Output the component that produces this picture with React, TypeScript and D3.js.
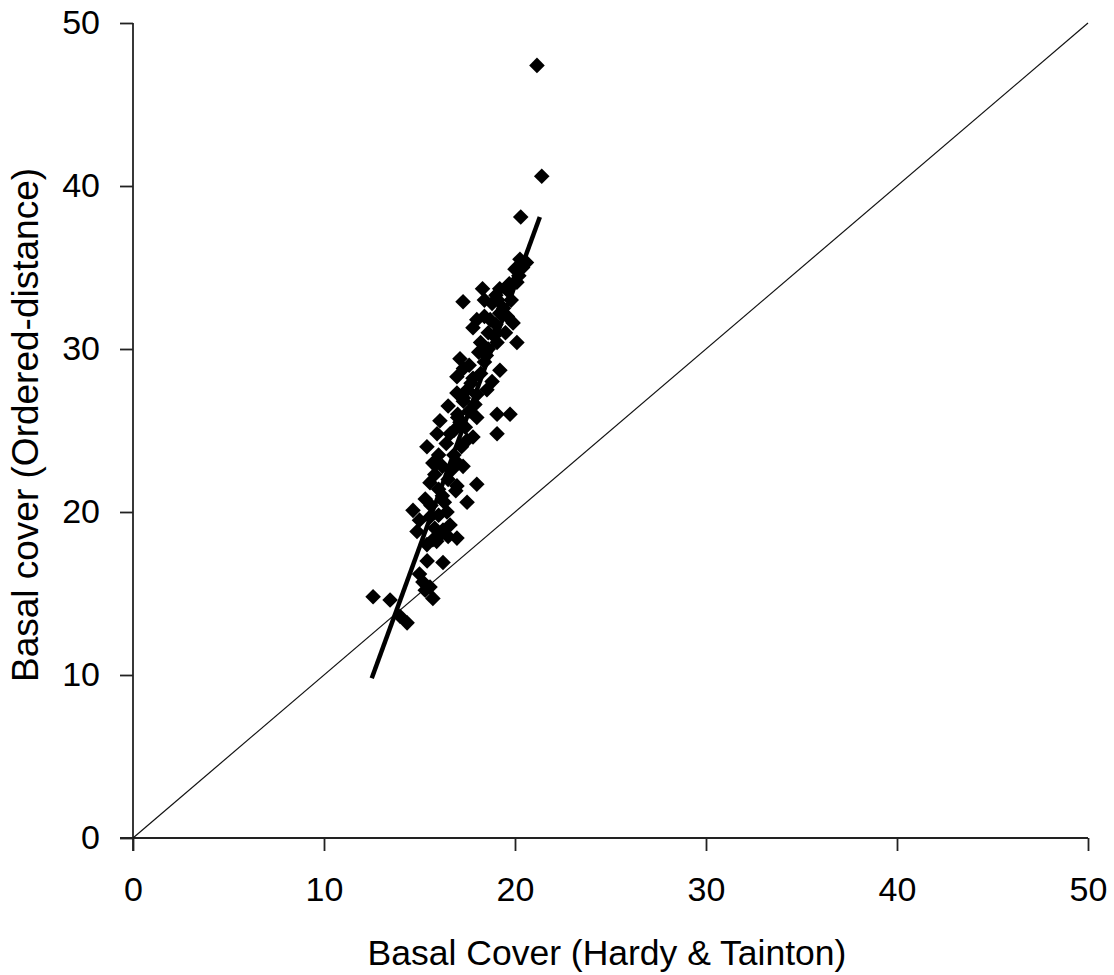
import React, { useRef, useEffect } from "react";
import * as d3 from "d3";

// scatter points: [Hardy & Tainton, Ordered-distance]
const hardyTainton = [
  21.15, 21.4, 20.3, 20.26, 20.0, 19.7, 19.2, 17.28, 19.1, 18.4,
  12.57, 13.46, 13.98, 14.35, 15.18, 15.55, 15.7, 16.23, 15.39, 15.7,
  14.87, 16.23, 16.96, 14.66, 15.55, 16.44, 17.49, 15.55, 16.96, 18.0,
  15.7, 17.28, 15.39, 15.92, 17.49, 19.06, 16.07, 17.12, 19.06, 19.74,
  16.96, 18.53, 16.96, 19.21, 17.12, 19.06, 20.1, 17.8, 19.9, 18.3,
  20.1, 15.0, 15.3, 15.0, 15.8, 16.0, 15.3, 16.2, 16.6, 15.9,
  16.5, 15.8, 16.2, 16.5, 16.8, 16.0, 17.0, 16.4, 17.2, 16.8,
  17.4, 17.0, 17.6, 17.3, 16.5, 18.0, 17.8, 17.5, 17.8, 18.2,
  17.6, 18.4, 18.0, 18.8, 17.3, 18.6, 18.2, 18.6, 19.0, 18.4,
  19.4, 18.8, 19.5, 19.8, 18.0, 19.0, 19.6, 20.2, 19.9, 20.4,
  20.6, 15.6, 16.0, 16.3, 16.7, 15.9, 16.6, 17.0, 17.3, 17.7,
  18.1, 18.5, 18.9, 19.2, 19.6, 17.9, 16.1, 15.4, 16.9, 18.7,
];
const orderedDistance = [
  47.4, 40.6, 38.1, 35.5, 34.9, 34.0, 33.7, 32.9, 33.0, 33.0,
  14.8, 14.6, 13.6, 13.2, 15.7, 15.4, 14.7, 16.9, 18.0, 18.3,
  18.8, 18.9, 18.4, 20.1, 19.7, 20.0, 20.6, 21.8, 21.6, 21.7,
  23.0, 22.8, 24.0, 24.8, 24.4, 24.8, 25.6, 25.5, 26.0, 26.0,
  27.3, 27.5, 28.3, 28.7, 29.4, 30.4, 30.4, 31.3, 31.6, 33.7,
  34.1, 16.2, 15.2, 19.5, 19.0, 19.8, 20.8, 21.0, 19.2, 18.2,
  18.5, 22.3, 22.8, 22.0, 23.5, 23.5, 23.0, 24.2, 24.0, 25.0,
  25.2, 26.0, 26.2, 26.8, 26.5, 25.8, 24.6, 27.5, 28.2, 28.5,
  29.0, 29.2, 27.2, 28.0, 28.8, 30.0, 30.4, 31.0, 31.5, 32.0,
  32.5, 32.8, 31.0, 33.0, 31.8, 33.3, 33.6, 34.5, 34.0, 35.0,
  35.3, 20.4, 21.4, 20.6, 22.6, 23.0, 24.8, 25.8, 27.0, 27.9,
  29.8, 29.6, 30.8, 32.2, 32.0, 26.6, 18.6, 17.0, 21.3, 31.8,
];

// fitted line ends and the 1:1 line
const fitX = [12.5, 21.3];
const fitY = [9.8, 38.1];
const oneToOne = [0, 50];

const xTicks = [0, 10, 20, 30, 40, 50];
const yTicks = [0, 10, 20, 30, 40, 50];

const xTitle = "Basal Cover (Hardy & Tainton)";
const yTitle = "Basal cover (Ordered-distance)";

const App = () => {
  const svgRef = useRef<SVGSVGElement>(null);

  useEffect(() => {
    const width = 1114;
    const height = 975;
    const margin = { top: 23, right: 26, bottom: 137, left: 133 };

    const svg = d3.select(svgRef.current);
    svg.selectAll("*").remove();
    svg.attr("width", width).attr("height", height);

    const x = d3
      .scaleLinear()
      .domain([0, 50])
      .range([margin.left, width - margin.right]);
    const y = d3
      .scaleLinear()
      .domain([0, 50])
      .range([height - margin.bottom, margin.top]);

    const font = "'Liberation Sans', Arial, sans-serif";
    const tickLen = 13;

    // x axis
    const xAxis = svg
      .append("g")
      .attr("transform", `translate(0, ${y(0)})`)
      .call(d3.axisBottom(x).tickValues(xTicks).tickSize(tickLen).tickPadding(26).tickSizeOuter(0));
    xAxis.select(".domain").remove();
    xAxis
      .append("line")
      .attr("x1", x(0) - tickLen)
      .attr("x2", x(50))
      .attr("stroke", "#222")
      .attr("stroke-width", 1.8);

    // y axis
    const yAxis = svg
      .append("g")
      .attr("transform", `translate(${x(0)}, 0)`)
      .call(d3.axisLeft(y).tickValues(yTicks).tickSize(tickLen).tickPadding(20).tickSizeOuter(0));
    yAxis.select(".domain").remove();
    yAxis
      .append("line")
      .attr("y1", y(50))
      .attr("y2", y(0) + tickLen)
      .attr("stroke", "#222")
      .attr("stroke-width", 1.8);

    [xAxis, yAxis].forEach((g) => {
      g.selectAll(".tick line").attr("stroke", "#222").attr("stroke-width", 1.8);
      g.selectAll(".tick text")
        .attr("fill", "#000")
        .style("font-family", font)
        .style("font-size", "34px");
    });

    // 1:1 line
    svg
      .append("line")
      .attr("x1", x(oneToOne[0]))
      .attr("y1", y(oneToOne[0]))
      .attr("x2", x(oneToOne[1]))
      .attr("y2", y(oneToOne[1]))
      .attr("stroke", "#111")
      .attr("stroke-width", 1.2);

    // points
    const points = hardyTainton.map((v, i) => ({ x: v, y: orderedDistance[i] }));
    const diamond = d3.symbol().type(d3.symbolDiamond2).size(155);
    svg
      .append("g")
      .selectAll("path")
      .data(points)
      .enter()
      .append("path")
      .attr("d", diamond)
      .attr("transform", (d) => `translate(${x(d.x)}, ${y(d.y)})`)
      .attr("fill", "#000");

    // regression line
    svg
      .append("line")
      .attr("x1", x(fitX[0]))
      .attr("y1", y(fitY[0]))
      .attr("x2", x(fitX[1]))
      .attr("y2", y(fitY[1]))
      .attr("stroke", "#000")
      .attr("stroke-width", 4.5);

    // titles
    svg
      .append("text")
      .attr("x", 607)
      .attr("y", 965)
      .attr("text-anchor", "middle")
      .style("font-family", font)
      .style("font-size", "35.5px")
      .text(xTitle);

    svg
      .append("text")
      .attr("transform", `translate(38, 425) rotate(-90)`)
      .attr("text-anchor", "middle")
      .style("font-family", font)
      .style("font-size", "37px")
      .text(yTitle);
  }, []);

  return (
    <div style={{ position: "absolute", left: 0, top: 0, background: "#fff" }}>
      <svg ref={svgRef}></svg>
    </div>
  );
};

export default App;
